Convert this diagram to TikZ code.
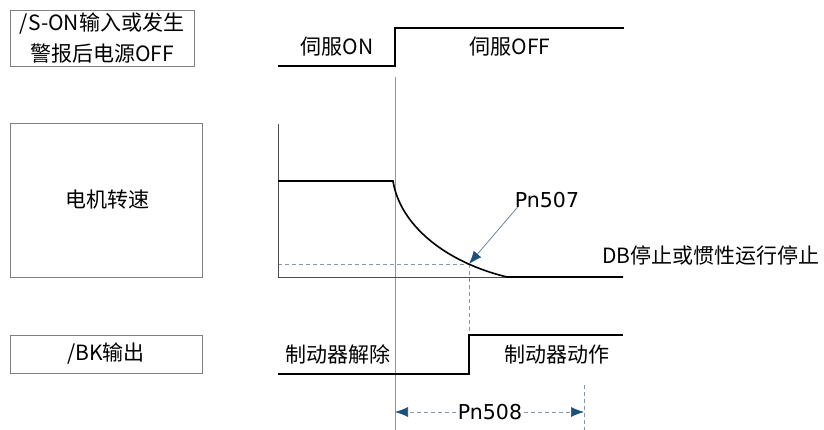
\documentclass[tikz,border=0pt]{standalone}
\usepackage{fontspec}
\setmainfont{Noto Sans CJK SC}
\newfontfamily\pnfont{DejaVu Sans}
\usetikzlibrary{arrows.meta, positioning, calc}

\definecolor{boxgray}{HTML}{7F7F7F}
\definecolor{guideblue}{HTML}{8497B0}
\definecolor{tipblue}{HTML}{1F4E79}

\begin{document}
\begin{tikzpicture}[x=1pt, y=-1pt,
        font=\fontsize{21}{31}\selectfont,
        label/.style={inner sep=0pt, align=center},
        pnlabel/.style={label, font=\pnfont\fontsize{20.5}{24}\selectfont},
        namebox/.style={draw=boxgray, line width=0.8pt},
        signal/.style={draw, line width=1.6pt},
        guide/.style={draw=guideblue, line width=0.7pt},
        dashguide/.style={draw=guideblue, line width=0.7pt, dash pattern=on 4pt off 3pt},
        axis/.style={draw=black!70, line width=0.7pt},
        pointer/.style={draw=guideblue!60!tipblue, line width=0.7pt, -{Latex[length=13pt, width=10pt, color=tipblue]}}]

        \useasboundingbox (0,0) rectangle (824,430);

        % Signal name boxes
        \draw [namebox] (10,10) rectangle (194,66);
        \node [label] (son) at (102,38) {/S-ON输入或发生\\警报后电源OFF};
        \draw [namebox] (10,123) rectangle (202,277);
        \node [label] (speed) at (107,200) {电机转速};
        \draw [namebox] (10,335) rectangle (202,373);
        \node [label] (bk) at (106,354) {/BK输出};

        % Key instants
        \coordinate (t0) at (395,77);
        \coordinate (t0end) at (395,430);
        \coordinate (t1) at (469,264);
        \coordinate (t1end) at (469,335);
        \coordinate (t2) at (584,385);
        \coordinate (t2end) at (584,430);

        % Guide lines
        \path [guide] (t0) -- (t0end);
        \path [dashguide] (278,264) -- (t1);
        \path [dashguide] (t1) -- (t1end);
        \path [dashguide] (t2) -- (t2end);

        % /S-ON waveform
        \path [signal] (278,66) -- (395,66) -- (395,28) -- (624,28);
        \node [label] (servoon) at (337,47) {伺服ON};
        \node [label] (servooff) at (510,47) {伺服OFF};

        % Motor speed waveform
        \path [axis] (278,124) -- (278,277) -- (507,277);
        \path [signal] (278,181) -- (393,181)
            .. controls (400,225) and (445,262) .. (507,277) -- (623,277);
        \node [pnlabel] (pn507) at (547,200) {Pn507};
        \node [label] (dbstop) at (711,256) {DB停止或惯性运行停止};
        \path [pointer] (pn507.south west) ++(3,-1) -- (t1);

        % /BK waveform
        \path [signal] (278,374) -- (469,374) -- (469,335) -- (623,335);
        \node [label] (release) at (338,354) {制动器解除};
        \node [label] (brake) at (557,355) {制动器动作};

        % Pn508 interval
        \node [pnlabel, fill=white, inner xsep=2pt] (pn508) at (490,412) {Pn508};
        \path [dashguide, -{Latex[length=13pt, width=10pt, color=tipblue]}] (pn508.west) -- (t0 |- pn508);
        \path [dashguide, -{Latex[length=13pt, width=10pt, color=tipblue]}] (pn508.east) -- (t2 |- pn508);

    \end{tikzpicture}
\end{document}
